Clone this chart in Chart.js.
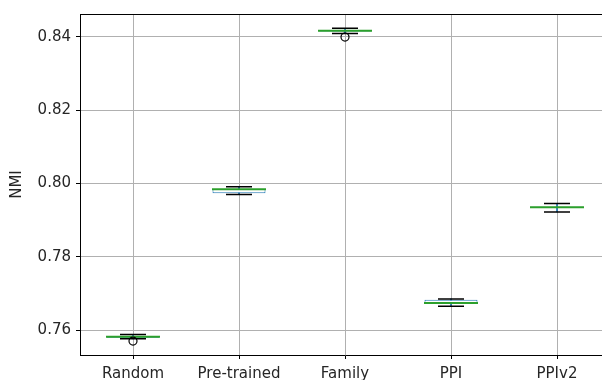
<!DOCTYPE html>
<html>
<head>
<meta charset="utf-8">
<script src="https://cdn.jsdelivr.net/npm/chart.js@4"></script>
<style>
  html, body { margin: 0; padding: 0; background: #fff; }
  #wrap { width: 602px; height: 380px; overflow: hidden; }
  #c { display: block; width: 620px; height: 380px; }
</style>
</head>
<body>
<div id="wrap"><canvas id="c" width="620" height="380"></canvas></div>
<script>
// box plot values
const categories = ['Random', 'Pre-trained', 'Family', 'PPI', 'PPIv2'];
const whiskerLow = [0.7576, 0.7970, 0.8409, 0.7665, 0.7922];
const q1 = [0.7579, 0.7973, 0.8414, 0.7672, 0.7933];
const median = [0.7582, 0.7984, 0.8416, 0.7674, 0.7935];
const q3 = [0.7584, 0.7985, 0.8418, 0.7683, 0.7936];
const whiskerHigh = [0.7588, 0.7991, 0.8423, 0.7685, 0.7945];
const outliers = [0.7570, null, 0.8399, null, null];
const yTicks = [0.76, 0.78, 0.80, 0.82, 0.84];

const FONT = 'DejaVu Sans';
Chart.defaults.font.family = FONT;
Chart.defaults.color = '#262626';

const frame = {
    id: 'frame',
    afterDraw(chart) {
        const a = chart.chartArea, ctx = chart.ctx;
        ctx.save();
        ctx.strokeStyle = '#000';
        ctx.lineWidth = 1;
        ctx.beginPath();
        ctx.moveTo(a.left, a.top + 0.5);
        ctx.lineTo(a.right, a.top + 0.5);
        ctx.moveTo(a.right - 0.5, a.top);
        ctx.lineTo(a.right - 0.5, a.bottom);
        ctx.stroke();
        ctx.restore();
    }
};

const ctx = document.getElementById('c').getContext('2d');
new Chart(ctx, {
    type: 'bar',
    data: {
        labels: categories,
        datasets: [
            { type: 'bar', label: 'whiskers', data: whiskerLow.map((v, i) => [v, whiskerHigh[i]]),
              backgroundColor: '#1f77b4', barThickness: 1, grouped: false, order: 5 },
            { type: 'bar', label: 'box', data: q1.map((v, i) => [v, q3[i]]),
              backgroundColor: '#ffffff', borderColor: '#1f77b4', borderWidth: 1, borderSkipped: false,
              barPercentage: 0.5, categoryPercentage: 1, grouped: false, order: 4 },
            { type: 'line', label: 'capLow', data: whiskerLow, showLine: false,
              pointStyle: 'line', pointRadius: 13, borderColor: '#000', borderWidth: 1.5, order: 2 },
            { type: 'line', label: 'capHigh', data: whiskerHigh, showLine: false,
              pointStyle: 'line', pointRadius: 13, borderColor: '#000', borderWidth: 1.5, order: 2 },
            { type: 'line', label: 'median', data: median, showLine: false,
              pointStyle: 'line', pointRadius: 27, borderColor: '#2ca02c', borderWidth: 2, order: 1 },
            { type: 'line', label: 'outliers', data: outliers, showLine: false, spanGaps: false,
              pointStyle: 'circle', pointRadius: 4, borderColor: '#000', backgroundColor: 'rgba(0,0,0,0)',
              borderWidth: 1.2, order: 0 }
        ]
    },
    options: {
        responsive: false,
        animation: false,
        events: [],
        layout: { autoPadding: false, padding: { left: 0, right: 10, top: 12, bottom: 0 } },
        plugins: { legend: { display: false }, tooltip: { enabled: false } },
        scales: {
            x: {
                grid: { color: '#b0b0b0', lineWidth: 1, offset: false, tickColor: '#000', tickLength: 4 },
                border: { color: '#000', width: 1 },
                ticks: { font: { size: 15 }, padding: 6, color: '#262626' },
                afterFit(s) { s.height = 25; }
            },
            y: {
                min: 0.7532,
                max: 0.8462,
                grid: { color: '#b0b0b0', lineWidth: 1, tickColor: '#000', tickLength: 4 },
                border: { color: '#000', width: 1 },
                afterBuildTicks(s) { s.ticks = yTicks.map(v => ({ value: v })); },
                ticks: { font: { size: 15 }, padding: 5, color: '#262626', callback: v => Number(v).toFixed(2) },
                title: { display: true, text: 'NMI', font: { size: 15 }, color: '#262626', padding: { top: 8, bottom: 0 } },
                afterFit(s) { s.width = 80; }
            }
        }
    },
    plugins: [frame]
});
</script>
</body>
</html>
